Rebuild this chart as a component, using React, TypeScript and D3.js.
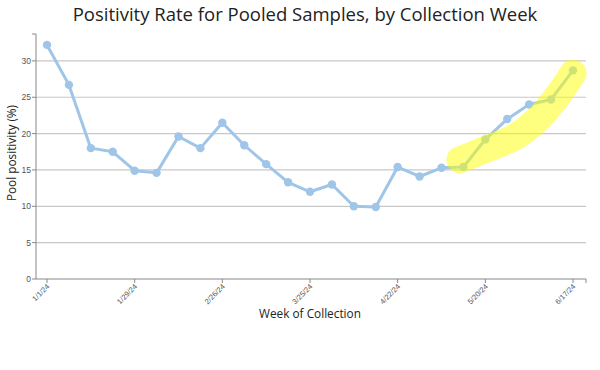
import React from "react";
import * as d3 from "d3";

const weeks: string[] = [
  "1/1/24","1/8/24","1/15/24","1/22/24","1/29/24","2/5/24","2/12/24","2/19/24","2/26/24",
  "3/4/24","3/11/24","3/18/24","3/25/24","4/1/24","4/8/24","4/15/24","4/22/24","4/29/24",
  "5/6/24","5/13/24","5/20/24","5/27/24","6/3/24","6/10/24","6/17/24",
];
const positivity: number[] = [
  32.2, 26.7, 18.0, 17.5, 14.9, 14.6, 19.6, 18.0, 21.5,
  18.4, 15.8, 13.3, 12.0, 13.0, 10.0, 9.9, 15.4, 14.1,
  15.3, 15.4, 19.2, 22.0, 24.0, 24.7, 28.7,
];
const xTickLabels: string[] = ["1/1/24","1/29/24","2/26/24","3/25/24","4/22/24","5/20/24","6/17/24"];
const yTicks: number[] = [0, 5, 10, 15, 20, 25, 30];
// highlighter annotation path, in (week index, value) space
const highlightWeek: number[] = [18.84, 20.07, 21.44, 22.49, 23.4, 24.0];
const highlightValue: number[] = [16.4, 17.9, 19.7, 22.3, 25.6, 28.3];

const W = 600, H = 370;
const plotL = 36, plotR = 586, plotT = 34, plotB = 279;

export default function App() {
  const parse = d3.timeParse("%m/%d/%y");
  const dates = weeks.map((w) => parse(w) as Date);
  const x = d3.scaleTime().domain([dates[0], dates[dates.length - 1]]).range([47, 573]);
  const y = d3.scaleLinear().domain([0, 33.7]).range([plotB, plotT]);
  const xi = d3.scaleLinear().domain([0, weeks.length - 1]).range([47, 573]);

  const line = d3.line<number>().x((_, i) => x(dates[i])).y((d) => y(d));
  const hl = d3
    .line<number>()
    .x((_, i) => xi(highlightWeek[i]))
    .y((d) => y(d))
    .curve(d3.curveCatmullRom);

  const tickFont = "'Liberation Sans', Arial, sans-serif";
  const font = "'Open Sans', sans-serif";
  return (
    <div style={{ position: "absolute", left: 0, top: 0 }}>
      <svg width={W} height={H} style={{ display: "block", background: "#fff" }}>
        <text x={305} y={21} textAnchor="middle" fontFamily={font} fontSize={18.5} fill="#222">
          Positivity Rate for Pooled Samples, by Collection Week
        </text>
        {yTicks.map((t) => (
          <g key={t}>
            {t > 0 && (
              <line x1={plotL} x2={plotR} y1={y(t)} y2={y(t)} stroke="#c8c8c8" strokeWidth={1.2} />
            )}
            <line x1={plotL - 4} x2={plotL} y1={y(t)} y2={y(t)} stroke="#888" />
            <text x={plotL - 5} y={y(t) + 3} textAnchor="end" fontFamily={tickFont} fontSize={8.5} fill="#555">
              {t}
            </text>
          </g>
        ))}
        <path d={`M${plotL - 4},${plotT}H${plotL}V${plotB}H${plotR}V${plotB + 4}`} fill="none" stroke="#888" />
        {xTickLabels.map((lab) => {
          const d = parse(lab) as Date;
          const px = x(d);
          return (
            <g key={lab}>
              <line x1={px} x2={px} y1={plotB} y2={plotB + 4} stroke="#888" />
              <text
                transform={`translate(${px + 3},${plotB + 8}) rotate(-45)`}
                textAnchor="end"
                fontFamily={tickFont}
                fontSize={7.5}
                fill="#555"
              >
                {lab}
              </text>
            </g>
          );
        })}
        <path d={line(positivity) || ""} fill="none" stroke="#9fc5e8" strokeWidth={3} strokeLinejoin="round" />
        {positivity.map((v, i) => (
          <circle key={i} cx={x(dates[i])} cy={y(v)} r={4.2} fill="#9fc5e8" />
        ))}
        <path
          d={hl(highlightValue) || ""}
          fill="none"
          stroke="#ffff00"
          strokeOpacity={0.5}
          strokeWidth={27}
          strokeLinecap="round"
          strokeLinejoin="round"
        />
        <text x={310} y={318} textAnchor="middle" fontFamily={font} fontSize={11.8} fill="#222">
          Week of Collection
        </text>
        <text
          transform={`translate(16,153) rotate(-90)`}
          textAnchor="middle"
          fontFamily={font}
          fontSize={11.8}
          fill="#222"
        >
          Pool positivity (%)
        </text>
      </svg>
    </div>
  );
}
